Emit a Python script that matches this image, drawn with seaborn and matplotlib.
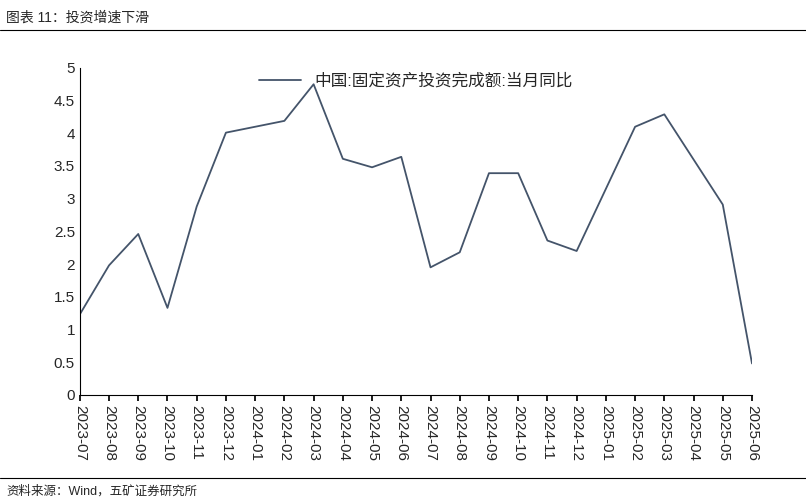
import matplotlib.pyplot as plt
import seaborn as sns
import pandas as pd
from matplotlib.lines import Line2D

months = ["2023-07", "2023-08", "2023-09", "2023-10", "2023-11", "2023-12",
          "2024-01", "2024-02", "2024-03", "2024-04", "2024-05", "2024-06",
          "2024-07", "2024-08", "2024-09", "2024-10", "2024-11", "2024-12",
          "2025-01", "2025-02", "2025-03", "2025-04", "2025-05", "2025-06"]
values = [1.23, 1.98, 2.46, 1.33, 2.88, 4.01, 4.1, 4.19, 4.75, 3.61, 3.48, 3.64,
          1.95, 2.18, 3.39, 3.39, 2.36, 2.2, 3.15, 4.1, 4.29, 3.6, 2.91, 0.48]
series_name = "中国:固定资产投资完成额:当月同比"

sns.set_theme(style="white")
plt.rcParams["font.family"] = ["Liberation Sans", "Noto Sans CJK SC", "DejaVu Sans"]

df = pd.DataFrame({"x": range(len(months)), "v": values})
fig = plt.figure(figsize=(8.06, 5.03), dpi=100)
ax = fig.add_axes([0.099, 0.215, 0.834, 0.65])
sns.lineplot(data=df, x="x", y="v", ax=ax, color="#44546A", linewidth=1.3)

ax.set_xlim(0, len(months) - 1)
ax.set_ylim(0, 5)
ax.set_yticks([0, 0.5, 1, 1.5, 2, 2.5, 3, 3.5, 4, 4.5, 5])
ax.set_yticklabels(["0", "0.5", "1", "1.5", "2", "2.5", "3", "3.5", "4", "4.5", "5"], fontsize=11)
ax.set_xticks(range(len(months)))
ax.set_xticklabels(months, rotation=270, fontsize=11)
ax.tick_params(axis="x", direction="out", length=4, color="black", bottom=True)
ax.tick_params(axis="y", direction="out", length=0)
ax.set_xlabel("")
ax.set_ylabel("")
for s in ["top", "right"]:
    ax.spines[s].set_visible(False)
for s in ["left", "bottom"]:
    ax.spines[s].set_color("black")
    ax.spines[s].set_linewidth(0.8)

ax.legend([Line2D([], [], color="#44546A", linewidth=1.3)], [series_name],
          loc="upper center", frameon=False, fontsize=12,
          bbox_to_anchor=(0.5, 1.03), handlelength=2.5)

fig.text(0.008, 0.965, "图表 11：投资增速下滑", fontsize=10, va="center")
fig.add_artist(Line2D([0, 1], [0.94, 0.94], color="black", linewidth=0.8))
fig.add_artist(Line2D([0, 1], [0.05, 0.05], color="black", linewidth=0.8))
fig.text(0.008, 0.022, "资料来源：Wind，五矿证券研究所", fontsize=9, va="center")

fig.savefig("out.png", dpi=100)
